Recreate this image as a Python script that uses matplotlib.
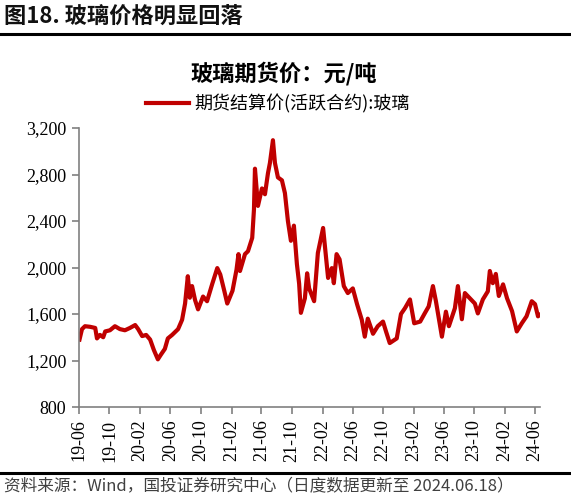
import pandas as pd
import matplotlib.pyplot as plt
from matplotlib.ticker import FuncFormatter

plt.rcParams['font.family'] = ['Noto Sans CJK SC', 'DejaVu Sans']

# 玻璃期货结算价(活跃合约), 元/吨
fechas = [
    "2019-06-03", "2019-06-13", "2019-06-25", "2019-07-15", "2019-08-05", "2019-08-12",
    "2019-08-24", "2019-09-06", "2019-09-14", "2019-10-03", "2019-10-23", "2019-11-12",
    "2019-12-02", "2019-12-22", "2020-01-12", "2020-01-24", "2020-02-09", "2020-02-25",
    "2020-03-12", "2020-03-27", "2020-04-12", "2020-04-24", "2020-05-10", "2020-05-22",
    "2020-06-08", "2020-07-02", "2020-07-18", "2020-07-30", "2020-08-10", "2020-08-18",
    "2020-08-27", "2020-09-08", "2020-09-20", "2020-10-10", "2020-10-26", "2020-11-16",
    "2020-12-06", "2020-12-18", "2021-01-03", "2021-01-15", "2021-02-05", "2021-02-21",
    "2021-03-01", "2021-03-07", "2021-03-27", "2021-04-08", "2021-04-25", "2021-05-02",
    "2021-05-06", "2021-05-18", "2021-06-03", "2021-06-15", "2021-06-27", "2021-07-05",
    "2021-07-17", "2021-07-25", "2021-08-06", "2021-08-22", "2021-09-03", "2021-09-15",
    "2021-09-27", "2021-10-09", "2021-10-21", "2021-10-30", "2021-11-06", "2021-11-22",
    "2021-12-01", "2021-12-09", "2021-12-29", "2022-01-13", "2022-02-03", "2022-02-23",
    "2022-03-10", "2022-03-18", "2022-03-29", "2022-04-10", "2022-04-27", "2022-05-13",
    "2022-06-02", "2022-06-19", "2022-07-08", "2022-07-20", "2022-08-01", "2022-08-22",
    "2022-09-10", "2022-10-01", "2022-10-13", "2022-10-28", "2022-11-25", "2022-12-12",
    "2022-12-28", "2023-01-17", "2023-02-03", "2023-02-27", "2023-03-17", "2023-04-02",
    "2023-04-19", "2023-05-01", "2023-05-25", "2023-06-10", "2023-06-22", "2023-07-16",
    "2023-07-28", "2023-08-13", "2023-08-25", "2023-09-14", "2023-10-04", "2023-10-16",
    "2023-11-05", "2023-11-25", "2023-12-03", "2023-12-15", "2023-12-27", "2024-01-08",
    "2024-01-25", "2024-02-10", "2024-03-01", "2024-03-20", "2024-04-09", "2024-04-28",
    "2024-05-19", "2024-06-01", "2024-06-13", "2024-06-18",
]
precios = [
    1380, 1470, 1495, 1490, 1480, 1390,
    1420, 1400, 1450, 1460, 1495, 1470,
    1460, 1480, 1505, 1470, 1410, 1420,
    1380, 1290, 1210, 1250, 1300, 1390,
    1420, 1470, 1550, 1690, 1925, 1740,
    1840, 1720, 1640, 1750, 1710, 1860,
    1995, 1940, 1800, 1690, 1800, 1980,
    2115, 1970, 2115, 2140, 2255, 2500,
    2850, 2530, 2680, 2630, 2810, 2900,
    3095, 2900, 2775, 2750, 2640, 2400,
    2230, 2360, 2030, 1860, 1610, 1735,
    1950, 1820, 1710, 2125, 2340, 1910,
    1995, 1865, 2115, 2070, 1840, 1780,
    1820, 1685, 1550, 1405, 1560, 1430,
    1495, 1535, 1450, 1350, 1390, 1600,
    1650, 1725, 1520, 1535, 1605, 1665,
    1840, 1710, 1405, 1620, 1495, 1650,
    1840, 1555, 1780, 1735, 1690, 1605,
    1725, 1795, 1970, 1865, 1945, 1755,
    1855, 1735, 1625, 1450, 1520, 1580,
    1710, 1685, 1580, 1590,
]
etiquetas_x = ["19-06", "19-10", "20-02", "20-06", "20-10", "21-02", "21-06", "21-10",
               "22-02", "22-06", "22-10", "23-02", "23-06", "23-10", "24-02", "24-06"]
valores_y = [800, 1200, 1600, 2000, 2400, 2800, 3200]

tiempo = pd.to_datetime(fechas)
pos_x = pd.to_datetime(["20" + e + "-01" for e in etiquetas_x])

fig = plt.figure(figsize=(5.71, 5.0), dpi=100)

# Cabecera
fig.text(4 / 571, 1 - 17 / 500, "图18. 玻璃价格明显回落", fontsize=16, fontweight='bold',
         va='center', ha='left', color='#111111')
fig.add_artist(plt.Line2D([0.0, 0.998], [1 - 34 / 500, 1 - 34 / 500], color='black', lw=2.2))
fig.text(284 / 571, 1 - 74 / 500, "玻璃期货价：元/吨", fontsize=16, fontweight='bold',
         va='center', ha='center', color='black')

ax = fig.add_axes([79 / 571, 1 - 407 / 500, 461 / 571, 279 / 500])
ax.plot(tiempo, precios, color='#C00000', lw=3, solid_joinstyle='round',
        label='期货结算价(活跃合约):玻璃')

ax.set_xlim(pd.Timestamp("2019-06-01"), pd.Timestamp("2024-06-21"))
ax.set_ylim(800, 3200)
ax.set_xticks(pos_x)
ax.set_xticklabels(etiquetas_x, rotation=90, fontsize=13, family='Liberation Serif')
ax.set_yticks(valores_y)
ax.yaxis.set_major_formatter(FuncFormatter(lambda v, p: f"{int(v):,}"))
for t in ax.get_yticklabels():
    t.set_family('Liberation Serif')
    t.set_fontsize(13)

for lado in ['top', 'right']:
    ax.spines[lado].set_visible(False)
for lado in ['left', 'bottom']:
    ax.spines[lado].set_color('#808080')
    ax.spines[lado].set_linewidth(1.2)
ax.tick_params(axis='both', direction='out', length=5, color='#808080', width=1.2, pad=4)

leg = fig.legend(loc='center left', bbox_to_anchor=(146 / 571, 1 - 104 / 500), frameon=False,
                 fontsize=13, handlelength=2.4, handletextpad=0.25, borderaxespad=0,
                 borderpad=0)

# Pie
fig.add_artist(plt.Line2D([0.0, 0.998], [1 - 473 / 500, 1 - 473 / 500], color='black', lw=2.2))
fig.text(4 / 571, 1 - 486 / 500, "资料来源：Wind，国投证券研究中心（日度数据更新至 2024.06.18）",
         fontsize=12, va='center', ha='left', color='#404040')

plt.savefig("out.png", dpi=100)
